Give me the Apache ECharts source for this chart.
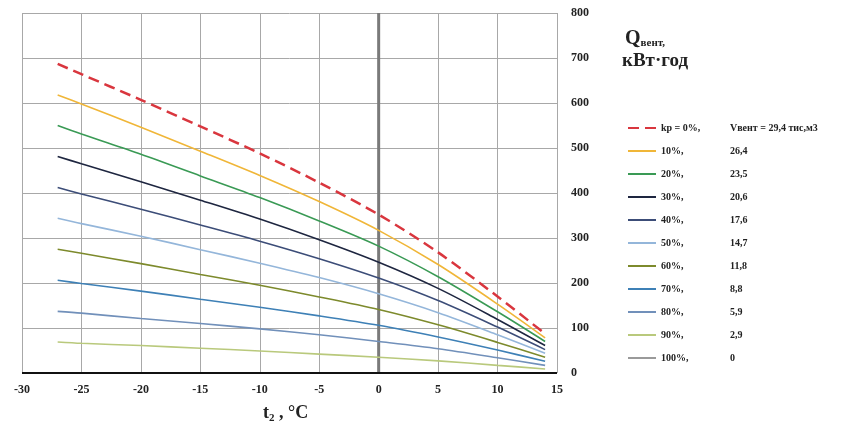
<!DOCTYPE html>
<html>
<head>
<meta charset="utf-8">
<script src="https://cdn.jsdelivr.net/npm/echarts@6/dist/echarts.min.js"></script>
<style>html,body{margin:0;padding:0;background:#fff;}#c{width:866px;height:428px;}</style>
</head>
<body>
<div id="c"></div>
<script>
const temps = [-27, -25, -20, -15, -10, -5, 0, 5, 10, 14];
const kpLabels = ['kp = 0%,', '10%,', '20%,', '30%,', '40%,', '50%,', '60%,', '70%,', '80%,', '90%,', '100%,'];
const volLabels = ['Vвент = 29,4 тис,м3', '26,4', '23,5', '20,6', '17,6', '14,7', '11,8', '8,8', '5,9', '2,9', '0'];
const q0   = [687, 664, 607, 548, 488, 423, 352, 268, 170, 87];
const q10  = [618, 598, 546, 493, 439, 381, 317, 241, 153, 78];
const q20  = [550, 531, 486, 438, 390, 338, 282, 214, 136, 70];
const q30  = [481, 465, 425, 384, 342, 296, 246, 188, 119, 61];
const q40  = [412, 398, 364, 329, 293, 254, 211, 161, 102, 52];
const q50  = [344, 332, 304, 274, 244, 212, 176, 134, 85, 44];
const q60  = [275, 266, 243, 219, 195, 169, 141, 107, 68, 35];
const q70  = [206, 199, 182, 164, 146, 127, 106, 80, 51, 26];
const q80  = [137, 133, 121, 110, 98, 85, 70, 54, 34, 17];
const q90  = [69, 66, 61, 55, 49, 42, 35, 27, 17, 9];
const q100 = [0, 0, 0, 0, 0, 0, 0, 0, 0, 0];
const seriesValues = [q0, q10, q20, q30, q40, q50, q60, q70, q80, q90, q100];
const colors = ['#d9363e', '#f0b638', '#3a9a55', '#1e2640', '#3c4d78', '#94b6da', '#7d8a2c', '#3e80b6', '#7190ba', '#b9c97c', '#9a9a9a'];
const xTicks = {min: -30, max: 15, interval: 5};
const yTicks = {min: 0, max: 800, interval: 100};

const serif = '"Liberation Serif", "DejaVu Serif", serif';

const series = seriesValues.map((vals, i) => ({
  name: kpLabels[i],
  type: 'line',
  smooth: 0.3,
  symbol: 'none',
  data: temps.map((t, j) => [t, vals[j]]),
  lineStyle: {color: colors[i], width: i === 0 ? 2.5 : 1.6, type: i === 0 ? [11, 6] : 'solid'},
  itemStyle: {color: colors[i]},
  z: 3 + (seriesValues.length - i)
}));
series.push({
  name: 'zeroLine', type: 'line', symbol: 'none', silent: true,
  data: [[0, 0], [0, 800]],
  lineStyle: {color: '#7a7a7a', width: 3}, z: 2
});
series.push({
  name: 'baseLine', type: 'line', symbol: 'none', silent: true,
  data: [[xTicks.min, 0], [xTicks.max, 0]],
  lineStyle: {color: '#111', width: 2}, z: 30
});

const chart = echarts.init(document.getElementById('c'));
chart.setOption({
  animation: false,
  backgroundColor: '#fff',
  grid: {left: 22, right: 309, top: 13, bottom: 55},
  xAxis: {
    type: 'value', min: xTicks.min, max: xTicks.max, interval: xTicks.interval,
    axisLine: {show: false},
    axisTick: {show: false},
    axisLabel: {margin: 11, fontFamily: serif, fontWeight: 'bold', fontSize: 12, color: '#222'},
    splitLine: {show: true, lineStyle: {color: '#a8a8a8', width: 1}}
  },
  yAxis: {
    type: 'value', position: 'right', min: yTicks.min, max: yTicks.max, interval: yTicks.interval,
    axisLine: {show: false},
    axisTick: {show: false},
    axisLabel: {margin: 14, fontFamily: serif, fontWeight: 'bold', fontSize: 12, color: '#222'},
    splitLine: {show: true, lineStyle: {color: '#a8a8a8', width: 1}}
  },
  legend: {
    data: kpLabels,
    orient: 'vertical',
    left: 622, top: 116,
    itemWidth: 28, itemHeight: 14, itemGap: 9,
    itemStyle: {opacity: 0},
    formatter: function (name) {
      const i = kpLabels.indexOf(name);
      return '{a|' + name + '}{b|' + volLabels[i] + '}';
    },
    textStyle: {
      fontFamily: serif, fontWeight: 'bold', fontSize: 10, color: '#222', lineHeight: 14,
      rich: {
        a: {width: 69, fontFamily: serif, fontWeight: 'bold', fontSize: 10, color: '#222'},
        b: {fontFamily: serif, fontWeight: 'bold', fontSize: 10, color: '#222'}
      }
    }
  },
  graphic: [
    {type: 'text', left: 625, top: 29, style: {
      rich: {
        q: {fontFamily: serif, fontWeight: 'bold', fontSize: 20, fill: '#222'},
        s: {fontFamily: serif, fontWeight: 'bold', fontSize: 11, fill: '#222', padding: [9, 0, 0, 0]}
      },
      text: '{q|Q}{s|вент,}'
    }},
    {type: 'text', left: 622, top: 52, style: {
      text: 'кВт·год', fontFamily: serif, fontWeight: 'bold', fontSize: 19, fill: '#222'
    }},
    {type: 'text', left: 263, top: 404, style: {
      rich: {
        t: {fontFamily: serif, fontWeight: 'bold', fontSize: 18, fill: '#222'},
        s: {fontFamily: serif, fontWeight: 'bold', fontSize: 11, fill: '#222', padding: [10, 0, 0, 0]}
      },
      text: '{t|t}{s|2}{t| , °C}'
    }}
  ],
  series: series
});
</script>
</body>
</html>
